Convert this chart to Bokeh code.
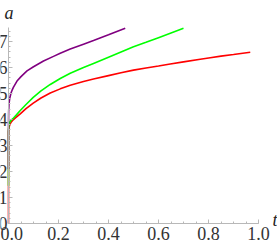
from bokeh.plotting import figure
from bokeh.models import FixedTicker, Range1d, Label, PrintfTickFormatter
from bokeh.embed import file_html
from bokeh.resources import INLINE

# ---- data ----
red_t = [0, 0, 0.002, 0.006, 0.012, 0.02, 0.03, 0.047, 0.07, 0.099, 0.13, 0.167, 0.207, 0.247,
         0.3, 0.34, 0.4, 0.45, 0.5, 0.55, 0.6, 0.647, 0.7, 0.767, 0.807, 0.85, 0.9, 0.967]
red_a = [0, 3.55, 3.7, 3.82, 3.92, 4.0, 4.08, 4.22, 4.42, 4.63, 4.83, 5.02, 5.18, 5.32,
         5.46, 5.56, 5.69, 5.8, 5.9, 5.98, 6.06, 6.14, 6.22, 6.32, 6.38, 6.44, 6.5, 6.59]

green_t = [0, 0, 0.002, 0.006, 0.012, 0.02, 0.03, 0.047, 0.07, 0.099, 0.13, 0.167, 0.207, 0.247,
           0.3, 0.34, 0.4, 0.45, 0.5, 0.55, 0.6, 0.65, 0.70]
green_a = [1.45, 3.6, 3.8, 3.92, 3.99, 4.06, 4.16, 4.35, 4.58, 4.85, 5.1, 5.35, 5.58, 5.78,
           6.0, 6.16, 6.4, 6.6, 6.8, 6.97, 7.15, 7.33, 7.51]

purple_t = [0, 0, 0.0005, 0.002, 0.005, 0.01, 0.014, 0.02, 0.034, 0.05, 0.074, 0.1, 0.14, 0.18,
            0.207, 0.247, 0.3, 0.34, 0.4, 0.467]
purple_a = [2.1, 3.9, 4.3, 4.6, 4.82, 5.02, 5.12, 5.25, 5.48, 5.65, 5.87, 6.03, 6.25, 6.43,
            6.55, 6.71, 6.9, 7.04, 7.26, 7.51]

x_ticks = [0.0, 0.2, 0.4, 0.6, 0.8, 1.0]
x_minor = [i * 0.05 for i in range(21)]
y_ticks = [0, 1, 2, 3, 4, 5, 6, 7]
y_minor = [i * 0.2 for i in range(38)]

FONT = "Liberation Sans Narrow"
AX = "#b8b8b8"
TXT = "#333333"

p = figure(width=277, height=249, output_backend="svg", toolbar_location=None,
           x_range=Range1d(-0.032, 1.076), y_range=Range1d(-1.0, 8.58),
           min_border_left=0, min_border_right=0, min_border_top=0, min_border_bottom=0,
           styles={"position": "absolute", "left": "0px", "top": "0px"})
p.outline_line_color = None
p.grid.visible = False
p.background_fill_color = "white"
p.border_fill_color = "white"

for ax in (p.xaxis[0], p.yaxis[0]):
    ax.fixed_location = 0
    ax.axis_line_color = AX
    ax.major_tick_line_color = AX
    ax.minor_tick_line_color = AX
    ax.major_tick_out = 0
    ax.major_tick_in = 4
    ax.minor_tick_out = 0
    ax.minor_tick_in = 2
    ax.major_label_text_font = FONT
    ax.major_label_text_font_size = "18px"
    ax.major_label_text_color = TXT

p.xaxis[0].ticker = FixedTicker(ticks=x_ticks, minor_ticks=x_minor)
p.xaxis[0].formatter = PrintfTickFormatter(format="%.1f")
p.xaxis[0].bounds = (0, 1)
p.xaxis[0].major_label_standoff = 3

p.yaxis[0].ticker = FixedTicker(ticks=y_ticks, minor_ticks=y_minor)
p.yaxis[0].bounds = (0, 7.55)
p.yaxis[0].major_label_standoff = 1

p.line(red_t, red_a, line_color="#ff0000", line_width=1.6)
p.line(green_t, green_a, line_color="#00ff00", line_width=1.6)
p.line(purple_t, purple_a, line_color="#800080", line_width=1.6)

p.add_layout(Label(x=0.002, y=8.1, text="a", text_align="center", text_baseline="middle",
                   text_font=FONT, text_font_style="italic", text_font_size="18px",
                   text_color="#222222"))
p.add_layout(Label(x=1.066, y=0.12, text="t", text_align="center", text_baseline="middle",
                   text_font=FONT, text_font_style="italic", text_font_size="18px",
                   text_color="#222222"))

open("out.html", "w").write(file_html(p, INLINE))
